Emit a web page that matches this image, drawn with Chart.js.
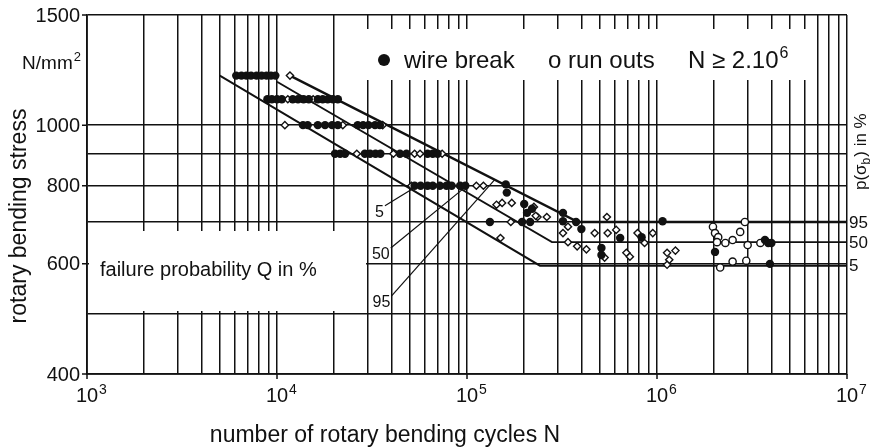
<!DOCTYPE html>
<html>
<head>
<meta charset="utf-8">
<script src="https://cdn.jsdelivr.net/npm/chart.js@4.4.1/dist/chart.umd.min.js"></script>
<style>
  html, body { margin: 0; padding: 0; background: #fff; }
</style>
</head>
<body>
<canvas id="myChart" width="877" height="447"></canvas>
<script>
// grid of the log-log paper
var xGridValues = [1e3, 2e3, 3e3, 4e3, 5e3, 6e3, 7e3, 8e3, 9e3,
    1e4, 2e4, 3e4, 4e4, 5e4, 6e4, 7e4, 8e4, 9e4,
    1e5, 2e5, 3e5, 4e5, 5e5, 6e5, 7e5, 8e5, 9e5,
    1e6, 2e6, 3e6, 4e6, 5e6, 6e6, 7e6, 8e6, 9e6, 1e7];
var yGridValues = [400, 500, 600, 700, 800, 900, 1000, 1500];

// labelled ticks
var xTickValues = [1e3, 1e4, 1e5, 1e6, 1e7];
var xTickExponents = ['3', '4', '5', '6', '7'];
var yTickValues = [400, 600, 800, 1000, 1500];

// S-N curves for failure probability 5 / 50 / 95 %
var q5N = [5.0e3, 2.42e5, 1e7];
var q5S = [1200, 596, 596];
var q50N = [1.0e4, 2.8e5, 1e7];
var q50S = [1173, 650, 650];
var q95N = [1.17e4, 3.84e5, 1e7];
var q95S = [1200, 700, 700];

// leader lines from the curve labels
var lead5N = [3.7e4, 5.1e4];
var lead5S = [743, 789];
var lead50N = [3.97e4, 9.4e4];
var lead50S = [636, 788];
var lead95N = [4.0e4, 1.4e5];
var lead95S = [533, 818];

// wire break (filled dots)
var breakN = [6.1e3, 6.5e3, 6.9e3, 7.3e3, 7.8e3, 8.3e3, 8.8e3, 9.3e3, 9.8e3,
    8.9e3, 9.4e3, 1.0e4, 1.06e4, 1.21e4, 1.29e4, 1.38e4, 1.47e4, 1.64e4, 1.74e4, 1.85e4, 1.97e4, 2.09e4,
    1.37e4, 1.45e4, 1.64e4, 1.79e4, 1.95e4, 2.09e4, 2.66e4, 2.84e4, 3.03e4, 3.28e4, 3.48e4,
    2.02e4, 2.15e4, 2.28e4, 2.9e4, 3.09e4, 3.3e4, 3.5e4, 4.44e4, 4.8e4, 6.2e4, 6.6e4, 7.0e4,
    5.3e4, 5.7e4, 6.2e4, 6.6e4, 7.2e4, 7.8e4, 8.3e4, 9.2e4, 9.8e4,
    1.6e5, 1.62e5, 2.0e5, 2.2e5, 2.07e5, 1.32e5, 1.95e5, 2.15e5,
    3.2e5, 3.2e5, 3.75e5, 4.0e5, 5.1e5, 5.1e5, 6.4e5, 8.3e5, 1.07e6,
    2.02e6, 3.7e6, 3.85e6, 4.0e6, 3.93e6];
var breakS = [1200, 1200, 1200, 1200, 1200, 1200, 1200, 1200, 1200,
    1100, 1100, 1100, 1100, 1100, 1100, 1100, 1100, 1100, 1100, 1100, 1100, 1100,
    1000, 1000, 1000, 1000, 1000, 1000, 1000, 1000, 1000, 1000, 1000,
    900, 900, 900, 900, 900, 900, 900, 900, 900, 900, 900, 900,
    800, 800, 800, 800, 800, 800, 800, 800, 800,
    804, 780, 748, 735, 724, 700, 700, 700,
    724, 702, 700, 682, 636, 620, 660, 662, 702,
    627, 655, 648, 648, 600];

// run outs (open marks)
var runN = [1.17e4, 1.14e4, 1.55e4, 1.1e4, 2.22e4, 3.6e4, 2.63e4, 4.1e4, 5.3e4, 5.66e4, 7.4e4,
    5.1e4, 1.12e5, 1.22e5,
    1.53e5, 1.43e5, 1.72e5, 2.25e5, 2.35e5, 1.7e5, 1.5e5,
    2.3e5, 2.63e5, 3.4e5, 3.2e5, 3.4e5, 3.8e5, 4.25e5, 4.7e5, 5.45e5, 5.5e5, 5.3e5,
    6.1e5, 6.9e5, 7.2e5, 7.9e5, 8.6e5, 9.5e5, 1.13e6, 1.16e6, 1.13e6, 1.25e6,
    1.97e6, 2.02e6, 2.1e6, 2.07e6, 2.29e6, 2.5e6, 2.74e6, 2.9e6, 2.15e6, 2.5e6, 2.95e6, 3.0e6, 3.5e6];
var runS = [1200, 1100, 1100, 1000, 1000, 1000, 900, 900, 900, 900, 900,
    800, 800, 800,
    751, 746, 751, 740, 713, 700, 660,
    716, 713, 688, 672, 650, 640, 633, 672, 713, 672, 614,
    680, 625, 616, 672, 648, 672, 625, 609, 598, 630,
    688, 672, 662, 650, 648, 655, 675, 700, 592, 605, 607, 643, 648];

var FONT = '"Liberation Sans", Arial, Helvetica, sans-serif';
var INK = '#111';

function xy(xs, ys) {
    return xs.map(function(x, i) { return { x: x, y: ys[i] }; });
}

function lineSet(label, xs, ys, width) {
    return {
        label: label,
        data: xy(xs, ys),
        showLine: true,
        pointRadius: 0,
        borderColor: INK,
        borderWidth: width,
        order: 1
    };
}

// text with a raised exponent, anchor at the base text
function withSup(ctx, base, exp, x, y, size, align) {
    ctx.font = size + 'px ' + FONT;
    var w = ctx.measureText(base).width;
    var es = Math.round(size * 0.68);
    ctx.font = es + 'px ' + FONT;
    var we = ctx.measureText(exp).width;
    var left = x;
    if (align === 'center') left = x - w / 2;
    if (align === 'right') left = x - w - we - 1;
    ctx.textAlign = 'left';
    ctx.font = size + 'px ' + FONT;
    ctx.fillText(base, left, y);
    ctx.font = es + 'px ' + FONT;
    ctx.fillText(exp, left + w + 1, y - size * 0.4);
}

var paper = {
    id: 'paper',
    beforeDatasetsDraw: function(chart) {
        var ctx = chart.ctx, a = chart.chartArea;
        ctx.save();
        ctx.fillStyle = '#fff';
        // legend panel and label panel cover the grid
        ctx.fillRect(a.left + 263, 29, 462, 51);
        ctx.fillRect(a.left + 2, 231, 277, 80);
        ctx.restore();
    },
    afterDraw: function(chart) {
        var ctx = chart.ctx, a = chart.chartArea;
        var x = chart.scales.x, y = chart.scales.y;
        ctx.save();
        ctx.fillStyle = INK;
        ctx.strokeStyle = INK;
        ctx.lineWidth = 1.5;

        // small outside ticks
        ctx.beginPath();
        yTickValues.forEach(function(v) {
            var py = y.getPixelForValue(v);
            ctx.moveTo(a.left - 5, py);
            ctx.lineTo(a.left, py);
        });
        xTickValues.forEach(function(v) {
            var px = x.getPixelForValue(v);
            ctx.moveTo(px, a.bottom);
            ctx.lineTo(px, a.bottom + 5);
        });
        ctx.stroke();

        // y tick labels
        ctx.font = '20px ' + FONT;
        ctx.textAlign = 'right';
        ctx.textBaseline = 'middle';
        yTickValues.forEach(function(v) {
            ctx.fillText(String(v), a.left - 7, y.getPixelForValue(v) + 1);
        });
        ctx.textBaseline = 'alphabetic';
        withSup(ctx, 'N/mm', '2', a.left - 6, 69, 19, 'right');

        // x tick labels
        xTickValues.forEach(function(v, i) {
            withSup(ctx, '10', xTickExponents[i], x.getPixelForValue(v), a.bottom + 28, 20, 'center');
        });

        // axis titles
        ctx.font = '23px ' + FONT;
        ctx.textAlign = 'center';
        ctx.fillText('number of rotary bending cycles N', 385, 442);
        ctx.save();
        ctx.translate(26, 216);
        ctx.rotate(-Math.PI / 2);
        ctx.fillText('rotary bending stress', 0, 0);
        ctx.restore();

        // right hand scale p(sigma_b)
        ctx.font = '17px ' + FONT;
        ctx.textAlign = 'left';
        ctx.textBaseline = 'middle';
        ctx.fillText('95', a.right + 2, y.getPixelForValue(700) + 1);
        ctx.fillText('50', a.right + 2, y.getPixelForValue(650) + 1);
        ctx.fillText('5', a.right + 2, y.getPixelForValue(596) + 1);
        ctx.save();
        ctx.translate(866, 190);
        ctx.rotate(-Math.PI / 2);
        ctx.textBaseline = 'alphabetic';
        ctx.font = '17px ' + FONT;
        var t1 = 'p(\u03c3';
        ctx.fillText(t1, 0, 0);
        var w1 = ctx.measureText(t1).width;
        ctx.font = '12px ' + FONT;
        ctx.fillText('b', w1, 4);
        var w2 = ctx.measureText('b').width;
        ctx.font = '17px ' + FONT;
        ctx.fillText(') in %', w1 + w2 + 1, 0);
        ctx.restore();

        // curve labels at the leader ends
        ctx.font = '16px ' + FONT;
        ctx.textAlign = 'right';
        ctx.textBaseline = 'top';
        [[lead5N, lead5S, '5'], [lead50N, lead50S, '50'], [lead95N, lead95S, '95']].forEach(function(l) {
            ctx.fillText(l[2], x.getPixelForValue(l[0][0]) - 1, y.getPixelForValue(l[1][0]) - 1);
        });

        // failure probability caption
        ctx.textAlign = 'left';
        ctx.textBaseline = 'middle';
        ctx.font = '20px ' + FONT;
        ctx.fillText('failure probability Q in %', a.left + 13, 270);

        // legend line
        ctx.beginPath();
        ctx.arc(384, 60, 6, 0, Math.PI * 2);
        ctx.fill();
        ctx.textBaseline = 'alphabetic';
        ctx.font = '24px ' + FONT;
        ctx.fillText('wire break', 404, 68);
        ctx.fillText('o run outs', 548, 68);
        withSup(ctx, 'N \u2265 2.10', '6', 688, 68, 24, 'left');
        ctx.restore();
    }
};

var ctx = document.getElementById('myChart').getContext('2d');

var chart = new Chart(ctx, {
    type: 'scatter',
    data: {
        datasets: [{
            label: 'wire break',
            data: xy(breakN, breakS),
            pointStyle: 'circle',
            pointRadius: 4.2,
            backgroundColor: INK,
            borderColor: INK,
            borderWidth: 0,
            order: 0
        }, {
            label: 'run outs',
            data: xy(runN, runS),
            pointStyle: function(c) { return c.raw && c.raw.x > 1.5e6 ? 'circle' : 'rectRot'; },
            pointRadius: 3.6,
            backgroundColor: '#fff',
            borderColor: INK,
            borderWidth: 1.4,
            order: 0
        },
            lineSet('Q 5 %', q5N, q5S, 1.9),
            lineSet('Q 50 %', q50N, q50S, 1.9),
            lineSet('Q 95 %', q95N, q95S, 2.4),
            lineSet('lead 5', lead5N, lead5S, 1.2),
            lineSet('lead 50', lead50N, lead50S, 1.2),
            lineSet('lead 95', lead95N, lead95S, 1.2)
        ]
    },
    options: {
        responsive: false,
        animation: false,
        devicePixelRatio: 1,
        layout: { padding: { left: 87, right: 30, top: 15, bottom: 73 } },
        plugins: { legend: { display: false }, tooltip: { enabled: false } },
        scales: {
            x: {
                type: 'logarithmic',
                min: 1e3,
                max: 1e7,
                afterBuildTicks: function(s) { s.ticks = xGridValues.map(function(v) { return { value: v }; }); },
                ticks: { display: false },
                grid: { color: INK, lineWidth: 1.5, drawTicks: false },
                border: { color: INK, width: 1.8 }
            },
            y: {
                type: 'logarithmic',
                min: 400,
                max: 1500,
                afterBuildTicks: function(s) { s.ticks = yGridValues.map(function(v) { return { value: v }; }); },
                ticks: { display: false },
                grid: { color: INK, lineWidth: 1.5, drawTicks: false },
                border: { color: INK, width: 1.8 }
            }
        }
    },
    plugins: [paper]
});
</script>
</body>
</html>
